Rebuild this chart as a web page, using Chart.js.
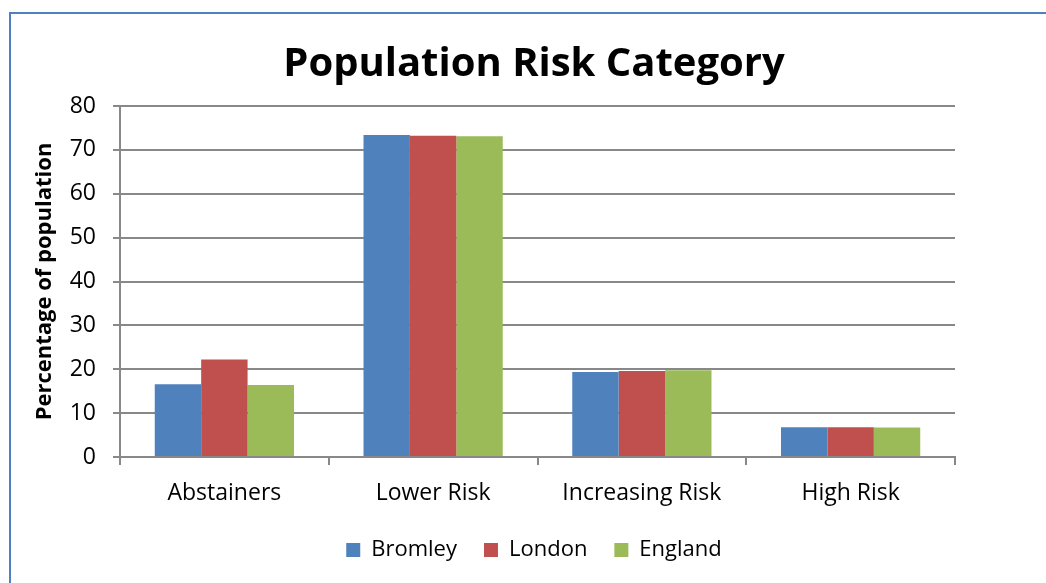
<!DOCTYPE html>
<html>
<head>
<meta charset="utf-8">
<title>Population Risk Category</title>
<script src="https://cdn.jsdelivr.net/npm/chart.js@4.4.0/dist/chart.umd.min.js"></script>
<style>
    html, body { margin: 0; padding: 0; background: #fff; overflow: hidden; }
    .frame {
        position: absolute;
        left: 9px;
        top: 12px;
        width: 1100px;
        height: 640px;
        border-left: 2px solid #4f81bd;
        border-top: 2px solid #4f81bd;
    }
    #riskChart { position: absolute; left: 0; top: 0; }
</style>
</head>
<body>
<div class="frame"></div>
<canvas id="riskChart" width="1046" height="583"></canvas>
<script>
// Alcohol risk categories, % of population by area
const categories = ['Abstainers', 'Lower Risk', 'Increasing Risk', 'High Risk'];
const bromley = [16.6, 73.4, 19.4, 6.8];
const london = [22.2, 73.2, 19.6, 6.8];
const england = [16.4, 73.1, 19.8, 6.7];
const yTicks = [0, 10, 20, 30, 40, 50, 60, 70, 80];

const fontFamily = '"Open Sans", Lato, sans-serif';
const gridColor = '#888888';

new Chart(document.getElementById('riskChart'), {
    type: 'bar',
    data: {
        labels: categories,
        datasets: [
            { label: 'Bromley', data: bromley, backgroundColor: '#4f81bd' },
            { label: 'London', data: london, backgroundColor: '#c0504d' },
            { label: 'England', data: england, backgroundColor: '#9bbb59' }
        ]
    },
    options: {
        responsive: false,
        animation: false,
        datasets: {
            bar: { categoryPercentage: 0.667, barPercentage: 1.0 }
        },
        layout: { padding: { left: 22, right: 0, top: 14, bottom: 12 } },
        plugins: {
            title: {
                display: true,
                text: 'Population Risk Category',
                color: '#000',
                font: { family: fontFamily, size: 40, weight: 'bold' },
                padding: { top: 27, bottom: 17 }
            },
            legend: {
                position: 'bottom',
                labels: {
                    color: '#000',
                    font: { family: fontFamily, size: 22 },
                    boxWidth: 14,
                    boxHeight: 14,
                    padding: 27
                }
            },
            tooltip: { enabled: false }
        },
        scales: {
            x: {
                grid: {
                    offset: true,
                    drawOnChartArea: false,
                    drawTicks: true,
                    tickLength: 8,
                    color: gridColor,
                    lineWidth: 2
                },
                border: { color: gridColor, width: 2 },
                ticks: {
                    color: '#000',
                    font: { family: fontFamily, size: 23 },
                    padding: 15
                },
                afterFit: function(scale) { scale.height = 55; }
            },
            y: {
                min: 0,
                max: 80,
                afterBuildTicks: function(scale) {
                    scale.ticks = yTicks.map(v => ({ value: v }));
                },
                grid: {
                    color: gridColor,
                    lineWidth: 2,
                    tickLength: 7
                },
                border: { color: gridColor, width: 2 },
                ticks: {
                    color: '#000',
                    font: { family: fontFamily, size: 23 },
                    padding: 17
                },
                title: {
                    display: true,
                    text: 'Percentage of population',
                    color: '#000',
                    font: { family: fontFamily, size: 22, weight: 'bold' },
                    padding: { top: 10, bottom: 0 }
                },
                afterFit: function(scale) { scale.width = 98; }
            },
            // empty right-hand gutter so the title centres over the plot
            gutter: {
                type: 'linear',
                position: 'right',
                grid: { display: false },
                border: { display: false },
                ticks: { display: false },
                afterFit: function(scale) { scale.width = 91; }
            }
        }
    }
});
</script>
</body>
</html>
